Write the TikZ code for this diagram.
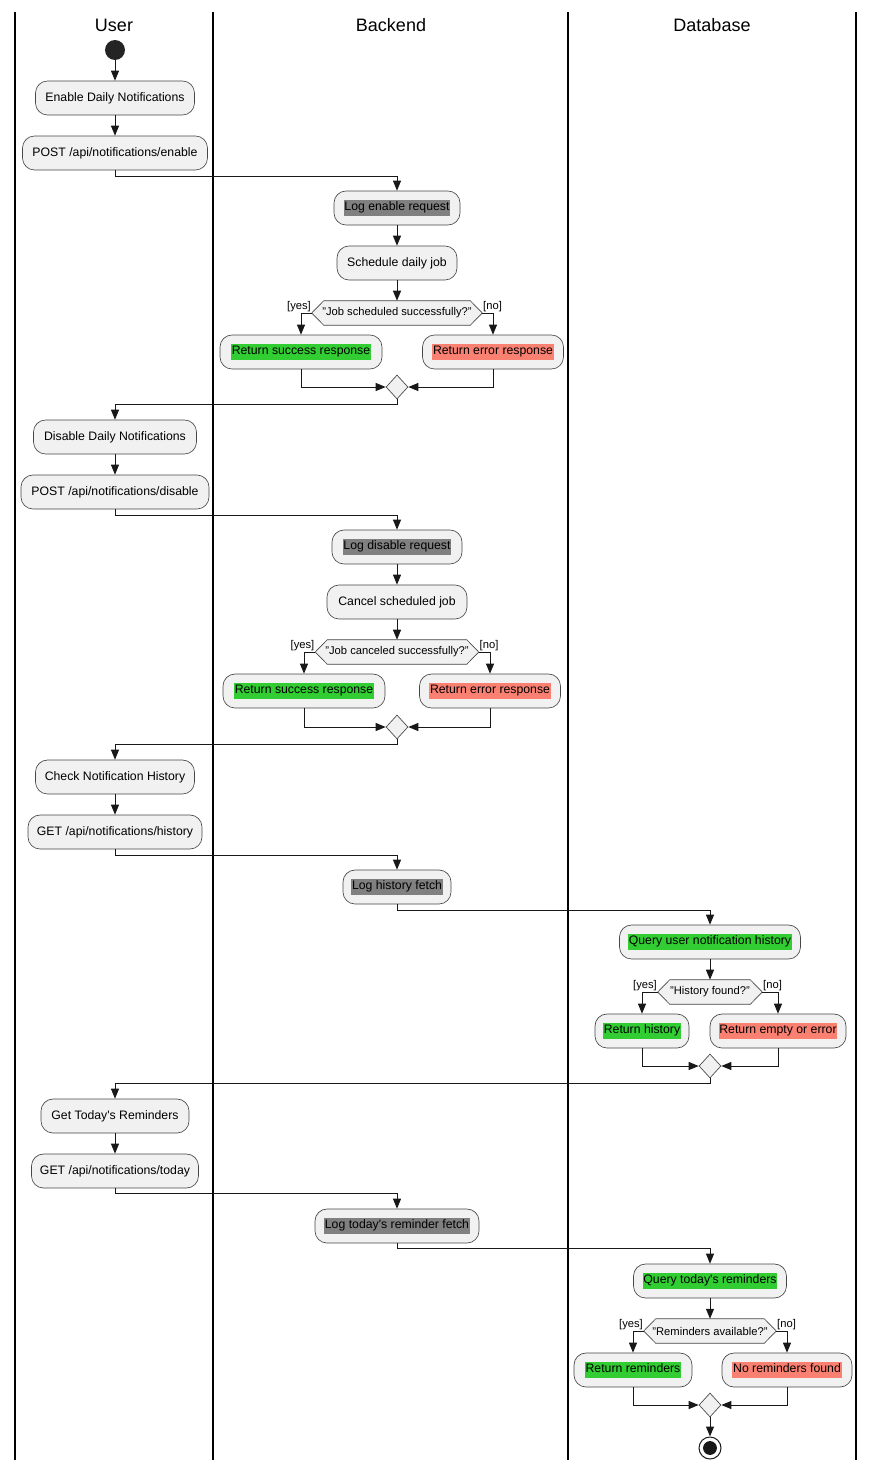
\documentclass[tikz,border=0pt]{standalone}
\usepackage{fontspec}
\setmainfont{Liberation Sans}
\usetikzlibrary{arrows.meta,shapes.geometric,backgrounds}
\definecolor{boxfill}{HTML}{F1F1F1}
\definecolor{lineC}{HTML}{181818}
\definecolor{hlgray}{HTML}{808080}
\definecolor{hlgreen}{HTML}{32CD32}
\definecolor{hlsalmon}{HTML}{FA8072}
\newcommand{\hlx}[2]{{\setlength{\fboxsep}{0.6pt}\colorbox{#1}{\strut #2}}}
\newcommand{\hexa}[1]{\draw[hex] (#1.west) -- ([xshift=9pt]#1.north west) -- ([xshift=-9pt]#1.north east) -- (#1.east) -- ([xshift=-9pt]#1.south east) -- ([xshift=9pt]#1.south west) -- cycle;}
\tikzset{
 act/.style={draw=lineC!80, line width=0.5pt, fill=boxfill, rounded corners=9pt, minimum height=25.5pt, inner xsep=0pt, font=\fontsize{9.2}{11}\selectfont},
 bw/.style={minimum width=#1*0.75pt},
 dec/.style={inner sep=0pt, minimum height=18pt, font=\fontsize{8.4}{10}\selectfont},
 hex/.style={draw=lineC!80, fill=boxfill, line width=0.5pt},
 merge/.style={diamond, draw=lineC!80, fill=boxfill, line width=0.5pt, minimum width=16.5pt, minimum height=18pt, inner sep=0pt},
 arr/.style={draw=lineC, line width=0.75pt, -{Triangle[length=7.5pt,width=6pt]}},
 lab/.style={font=\fontsize{8.4}{10}\selectfont, inner sep=0.5pt},
 lane/.style={line width=1.1pt, black},
 hdr/.style={font=\fontsize{13.5}{16}\selectfont}
}
\begin{document}
\begin{tikzpicture}[x=0.75pt,y=-0.75pt]
\useasboundingbox (0,0) rectangle (874,1470);
% lanes
\draw[lane] (15,12) -- (15,1460);
\draw[lane] (213,12) -- (213,1460);
\draw[lane] (568,12) -- (568,1460);
\draw[lane] (856,12) -- (856,1460);
\node[hdr] (hU) at (114,25) {User};
\node[hdr] (hB) at (391,25) {Backend};
\node[hdr] (hD) at (712,25) {Database};

% nodes
\node[circle, fill=lineC!95, minimum size=15pt, inner sep=0pt] (start) at (115,50) {};
\node[act, bw=159] (a1) at (115,98) {Enable Daily Notifications};
\node[act, bw=185] (a2) at (115,153) {POST /api/notifications/enable};
\node[act, bw=126] (b1) at (397,208) {\hlx{hlgray}{Log enable request}};
\node[act, bw=120] (b2) at (397,263) {Schedule daily job};
\node[dec, minimum width=127.5pt] (d1) at (397,313) {"Job scheduled successfully?"};
\node[act, bw=162] (s1) at (301,352) {\hlx{hlgreen}{Return success response}};
\node[act, bw=141] (e1) at (493,352) {\hlx{hlsalmon}{Return error response}};
\node[merge] (m1) at (397,387) {};

\node[act, bw=163] (a3) at (115,437) {Disable Daily Notifications};
\node[act, bw=188] (a4) at (115,492) {POST /api/notifications/disable};
\node[act, bw=130] (b3) at (397,547) {\hlx{hlgray}{Log disable request}};
\node[act, bw=140] (b4) at (397,602) {Cancel scheduled job};
\node[dec, minimum width=122.25pt] (d2) at (397,652) {"Job canceled successfully?"};
\node[act, bw=162] (s2) at (304,691) {\hlx{hlgreen}{Return success response}};
\node[act, bw=141] (e2) at (490,691) {\hlx{hlsalmon}{Return error response}};
\node[merge] (m2) at (397,727) {};

\node[act, bw=159] (a5) at (115,777) {Check Notification History};
\node[act, bw=174] (a6) at (115,832) {GET /api/notifications/history};
\node[act, bw=108] (b5) at (397,887) {\hlx{hlgray}{Log history fetch}};
\node[act, bw=181] (c1) at (710,942) {\hlx{hlgreen}{Query user notification history}};
\node[dec, minimum width=78pt] (d3) at (710,992) {"History found?"};
\node[act, bw=94] (s3) at (642,1031) {\hlx{hlgreen}{Return history}};
\node[act, bw=136] (e3) at (778,1031) {\hlx{hlsalmon}{Return empty or error}};
\node[merge] (m3) at (710,1066) {};

\node[act, bw=148] (a7) at (115,1116) {Get Today\textquotesingle s Reminders};
\node[act, bw=167] (a8) at (115,1171) {GET /api/notifications/today};
\node[act, bw=164] (b6) at (397,1226) {\hlx{hlgray}{Log today\textquotesingle s reminder fetch}};
\node[act, bw=153] (c2) at (710,1281) {\hlx{hlgreen}{Query today\textquotesingle s reminders}};
\node[dec, minimum width=99pt] (d4) at (710,1331) {"Reminders available?"};
\node[act, bw=118] (s4) at (633,1370) {\hlx{hlgreen}{Return reminders}};
\node[act, bw=130] (e4) at (787,1370) {\hlx{hlsalmon}{No reminders found}};
\node[merge] (m4) at (710,1405) {};
\node[circle, draw=lineC, line width=0.75pt, fill=white, minimum size=16.5pt, inner sep=0pt] (end) at (710,1448) {};
\fill[lineC] (end.center) circle (5.2pt);

\begin{scope}[on background layer]
\hexa{d1}
\hexa{d2}
\hexa{d3}
\hexa{d4}
\end{scope}

% connectors
\draw[arr] (start) -- (a1);
\draw[arr] (a1) -- (a2);
\draw[arr] (a2.south) -- ++(0,6) -| (b1.north);
\draw[arr] (b1) -- (b2);
\draw[arr] (b2) -- (d1);
\draw[arr] (d1.west) -| (s1.north);
\draw[arr] (d1.east) -| (e1.north);
\node[lab, anchor=south east] (y1) at (d1.west) {[yes]};
\node[lab, anchor=south west] (n1) at (d1.east) {[no]};
\draw[arr] (s1.south) |- (m1.west);
\draw[arr] (e1.south) |- (m1.east);
\draw[arr] (m1.south) -- ++(0,5) -| (a3.north);

\draw[arr] (a3) -- (a4);
\draw[arr] (a4.south) -- ++(0,6) -| (b3.north);
\draw[arr] (b3) -- (b4);
\draw[arr] (b4) -- (d2);
\draw[arr] (d2.west) -| (s2.north);
\draw[arr] (d2.east) -| (e2.north);
\node[lab, anchor=south east] (y2) at (d2.west) {[yes]};
\node[lab, anchor=south west] (n2) at (d2.east) {[no]};
\draw[arr] (s2.south) |- (m2.west);
\draw[arr] (e2.south) |- (m2.east);
\draw[arr] (m2.south) -- ++(0,5) -| (a5.north);

\draw[arr] (a5) -- (a6);
\draw[arr] (a6.south) -- ++(0,6) -| (b5.north);
\draw[arr] (b5.south) -- ++(0,6) -| (c1.north);
\draw[arr] (c1) -- (d3);
\draw[arr] (d3.west) -| (s3.north);
\draw[arr] (d3.east) -| (e3.north);
\node[lab, anchor=south east] (y3) at (d3.west) {[yes]};
\node[lab, anchor=south west] (n3) at (d3.east) {[no]};
\draw[arr] (s3.south) |- (m3.west);
\draw[arr] (e3.south) |- (m3.east);
\draw[arr] (m3.south) -- ++(0,5) -| (a7.north);

\draw[arr] (a7) -- (a8);
\draw[arr] (a8.south) -- ++(0,5) -| (b6.north);
\draw[arr] (b6.south) -- ++(0,5) -| (c2.north);
\draw[arr] (c2) -- (d4);
\draw[arr] (d4.west) -| (s4.north);
\draw[arr] (d4.east) -| (e4.north);
\node[lab, anchor=south east] (y4) at (d4.west) {[yes]};
\node[lab, anchor=south west] (n4) at (d4.east) {[no]};
\draw[arr] (s4.south) |- (m4.west);
\draw[arr] (e4.south) |- (m4.east);
\draw[arr] (m4) -- (end);
\end{tikzpicture}
\end{document}
